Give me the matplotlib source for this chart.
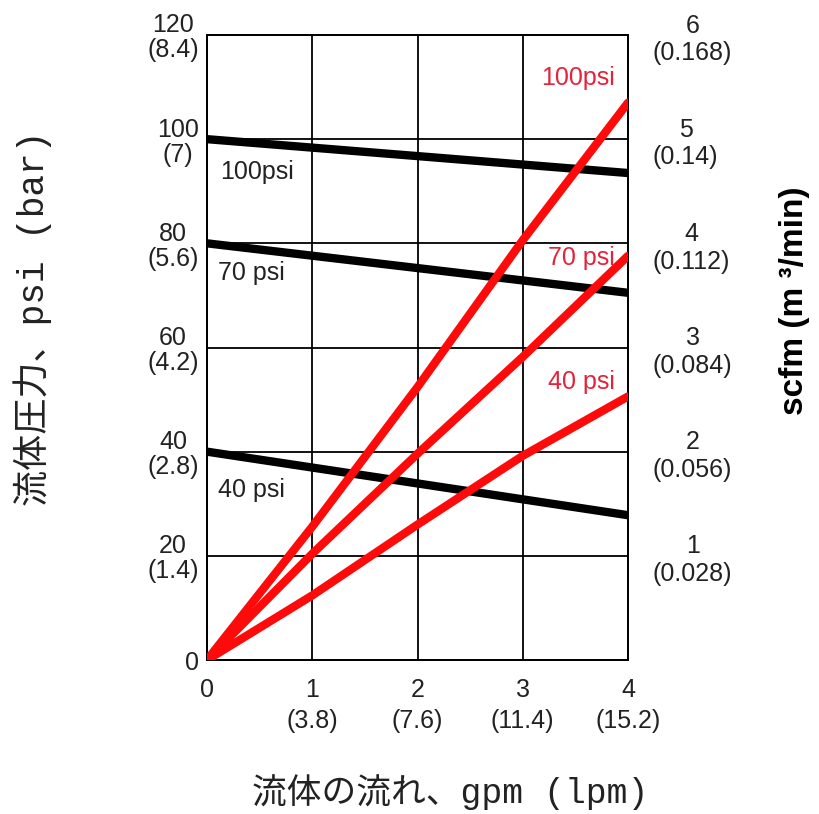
import matplotlib.pyplot as plt

# 流量 (gpm)
flow_gpm = [0, 1, 2, 3, 4]

# 黒線: 流体圧力 (psi) — 始点と終点
pressure_flow = [0, 4]
pressure_100 = [100, 93.5]
pressure_70 = [80, 70.5]
pressure_40 = [40, 27.8]

# 赤線: 空気消費量 (scfm)
scfm_100 = [0, 1.28, 2.62, 4.03, 5.35]
scfm_70 = [0, 1.02, 1.98, 2.91, 3.88]
scfm_40 = [0, 0.62, 1.30, 1.96, 2.53]

left_ticks = [0, 20, 40, 60, 80, 100, 120]
left_labels = ['0', '20\n(1.4)', '40\n(2.8)', '60\n(4.2)', '80\n(5.6)', '100\n(7)', '120\n(8.4)']
right_ticks = [1, 2, 3, 4, 5, 6]
right_labels = ['1\n(0.028)', '2\n(0.056)', '3\n(0.084)', '4\n(0.112)', '5\n(0.14)', '6\n(0.168)']
x_ticks = [0, 1, 2, 3, 4]
x_labels = ['0', '1\n(3.8)', '2\n(7.6)', '3\n(11.4)', '4\n(15.2)']

RED = '#ff0a0a'
RED_TXT = '#e3233a'
TXT = '#222222'
tick_font = 'Liberation Sans'
cjk_font = ['Liberation Mono', 'Noto Sans CJK JP']

fig = plt.figure(figsize=(8.19, 8.14), dpi=100)
ax = fig.add_axes([207/819, 1 - 660/814, 421/819, 625/814])
ax2 = ax.twinx()

ax.set_xlim(0, 4)
ax.set_ylim(0, 120)
ax2.set_ylim(0, 6)

ax.grid(True, color='black', linewidth=1.3)
ax.set_axisbelow(True)
for a in (ax, ax2):
    for s in a.spines.values():
        s.set_color('black')
        s.set_linewidth(1.3)

lw = 6
ax.plot(pressure_flow, pressure_100, color='black', lw=lw, solid_capstyle='round', zorder=3)
ax.plot(pressure_flow, pressure_70, color='black', lw=lw, solid_capstyle='round', zorder=3)
ax.plot(pressure_flow, pressure_40, color='black', lw=lw, solid_capstyle='round', zorder=3)
ax2.plot(flow_gpm, scfm_100, color=RED, lw=lw, solid_capstyle='round', zorder=4)
ax2.plot(flow_gpm, scfm_70, color=RED, lw=lw, solid_capstyle='round', zorder=4)
ax2.plot(flow_gpm, scfm_40, color=RED, lw=lw, solid_capstyle='round', zorder=4)

# ラベル
lab = dict(fontsize=18, family=tick_font, va='center')
ax.text(0.12, 93.7, '100psi', color=TXT, ha='left', **lab)
ax.text(0.10, 74.3, '70 psi', color=TXT, ha='left', **lab)
ax.text(0.10, 32.6, '40 psi', color=TXT, ha='left', **lab)
ax.text(3.877, 111.7, '100psi', color=RED_TXT, ha='right', **lab)
ax.text(3.877, 77.2, '70 psi', color=RED_TXT, ha='right', **lab)
ax.text(3.877, 53.4, '40 psi', color=RED_TXT, ha='right', **lab)

ax.set_xticks(x_ticks)
ax.set_xticklabels(x_labels, fontsize=18, family=tick_font, color=TXT, linespacing=1.35)
ax.set_yticks(left_ticks)
ax.set_yticklabels(left_labels, fontsize=18, family=tick_font, color=TXT,
                   multialignment='center', linespacing=1.05)
ax2.set_yticks(right_ticks)
ax2.set_yticklabels(right_labels, fontsize=18, family=tick_font, color=TXT,
                    multialignment='center', linespacing=1.2)
ax.tick_params(axis='x', length=0, pad=13)
ax.tick_params(axis='y', length=0, pad=6)
ax2.tick_params(axis='y', length=0, pad=18)

fig.text(450/819, 1 - 792/814, '流体の流れ、gpm (lpm)', fontsize=25, family=cjk_font,
         color=TXT, ha='center', va='center')
fig.text(33/819, 1 - 318/814, '流体圧力、psi (bar)', fontsize=26, family=cjk_font,
         color=TXT, ha='center', va='center', rotation=90)
fig.text(794/819, 1 - 301/814, 'scfm (m ³/min)', fontsize=24, fontweight='bold',
         family=tick_font, color='black', ha='center', va='center', rotation=90)

fig.savefig('out.png', dpi=100)
